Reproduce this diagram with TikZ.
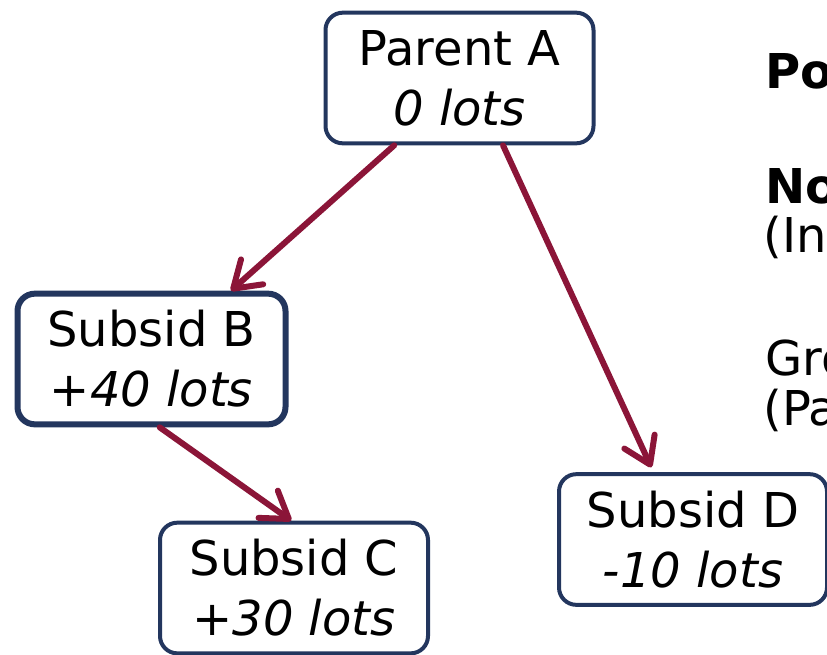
\documentclass[tikz,border=0pt]{standalone}
\usepackage{fontspec}
\setmainfont{DejaVu Sans}
\usepackage{tikz}
\usetikzlibrary{arrows.meta,positioning,calc}
\definecolor{boxnavy}{RGB}{35,54,94}
\definecolor{linkred}{RGB}{139,21,56}
\tikzstyle{entity} = [rectangle, draw=boxnavy, line width=3pt, rounded corners=13pt, align=center, minimum width=201pt, minimum height=98pt, inner sep=0pt, font=\fontsize{36}{45}\selectfont]
\tikzstyle{entitymain} = [entity, line width=4.5pt]
\tikzstyle{link} = [draw=linkred, line width=4.5pt, line cap=round, -{Straight Barb[length=19pt,width=25pt,round]}]
\tikzstyle{note} = [anchor=base west, inner sep=0pt, font=\fontsize{36}{45}\selectfont]

\begin{document}
\begin{tikzpicture}[x=0.75pt, y=-0.75pt]
    \useasboundingbox (0,0) rectangle (827,654);
    \clip (0,0) rectangle (827,654);
    \node[entity] (parentA) at (459.5,78) {Parent A\\\textit{0 lots}};
    \node[entitymain] (subsidB) at (151.5,359) {Subsid B\\\textit{+40 lots}};
    \node[entity] (subsidC) at (294,588) {Subsid C\\\textit{+30 lots}};
    \node[entity] (subsidD) at (693,539.5) {Subsid D\\\textit{-10 lots}};

    \node[note] (notePo) at (765,88) {\bfseries Po};
    \node[note] (noteNo) at (765,203) {\bfseries No};
    \node[note] (noteIn) at (763,252) {(In};
    \node[note] (noteGro) at (765,375) {Gro};
    \node[note] (notePa) at (763,425) {(Pa};

    \draw[link] ($(parentA.south west)!0.26!(parentA.south east)$) -- ($(subsidB.north west)!0.79!(subsidB.north east)$);
    \draw[link, shorten >=4pt] ($(parentA.south west)!0.66!(parentA.south east)$) -- ($(subsidD.north west)!0.355!(subsidD.north east)$);
    \draw[link] ($(subsidB.south west)!0.53!(subsidB.south east)$) -- ($(subsidC.north west)!0.49!(subsidC.north east)$);
\end{tikzpicture}
\end{document}
